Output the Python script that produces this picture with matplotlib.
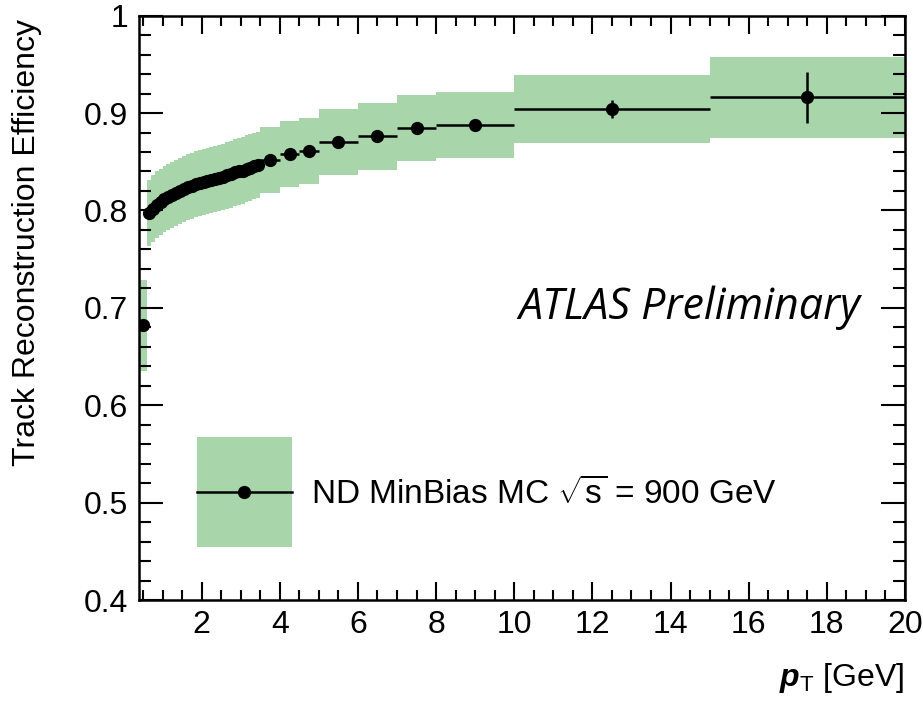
import matplotlib
matplotlib.use("Agg")
import matplotlib.pyplot as plt
from matplotlib.patches import Patch, Rectangle
from matplotlib.lines import Line2D
from matplotlib.legend_handler import HandlerBase
import numpy as np

# ---------------- data ----------------
pt_center = [0.50,
             0.65, 0.75, 0.85, 0.95, 1.05, 1.15, 1.25, 1.35, 1.45, 1.55,
             1.65, 1.75, 1.85, 1.95, 2.05, 2.15, 2.25, 2.35, 2.45, 2.55,
             2.65, 2.75, 2.85, 2.95, 3.05, 3.15, 3.25, 3.35, 3.45,
             3.75, 4.25, 4.75, 5.5, 6.5, 7.5, 9.0, 12.5, 17.5]
pt_halfwidth = [0.10,
                0.05, 0.05, 0.05, 0.05, 0.05, 0.05, 0.05, 0.05, 0.05, 0.05,
                0.05, 0.05, 0.05, 0.05, 0.05, 0.05, 0.05, 0.05, 0.05, 0.05,
                0.05, 0.05, 0.05, 0.05, 0.05, 0.05, 0.05, 0.05, 0.05,
                0.25, 0.25, 0.25, 0.5, 0.5, 0.5, 1.0, 2.5, 2.5]
efficiency = [0.682,
              0.797, 0.802, 0.806, 0.809, 0.812, 0.814, 0.816, 0.818, 0.820, 0.822,
              0.824, 0.825, 0.827, 0.828, 0.829, 0.830, 0.831, 0.832, 0.833, 0.834,
              0.836, 0.837, 0.839, 0.840, 0.841, 0.843, 0.844, 0.846, 0.847,
              0.852, 0.858, 0.861, 0.870, 0.876, 0.885, 0.888, 0.904, 0.916]
stat_err = [0.004,
            0.002, 0.002, 0.002, 0.002, 0.002, 0.002, 0.002, 0.002, 0.002, 0.002,
            0.002, 0.002, 0.002, 0.002, 0.002, 0.002, 0.002, 0.002, 0.002, 0.002,
            0.002, 0.002, 0.002, 0.002, 0.002, 0.002, 0.002, 0.002, 0.002,
            0.003, 0.003, 0.003, 0.003, 0.004, 0.004, 0.004, 0.009, 0.026]
syst_err = [0.047,
            0.034, 0.034, 0.034, 0.034, 0.034, 0.034, 0.034, 0.034, 0.034, 0.034,
            0.034, 0.034, 0.034, 0.034, 0.034, 0.034, 0.034, 0.034, 0.034, 0.034,
            0.034, 0.034, 0.034, 0.034, 0.034, 0.034, 0.034, 0.034, 0.034,
            0.034, 0.034, 0.034, 0.034, 0.034, 0.034, 0.034, 0.035, 0.042]

x_ticks = [2, 4, 6, 8, 10, 12, 14, 16, 18, 20]
y_ticks = [0.4, 0.5, 0.6, 0.7, 0.8, 0.9, 1.0]
y_ticklabels = ["0.4", "0.5", "0.6", "0.7", "0.8", "0.9", "1"]

legend_label = r"ND MinBias MC $\sqrt{\mathregular{s}}$ = 900 GeV"
x_label = r"$\mathbfit{p}_{\mathrm{T}}$ [GeV]"
y_label = "Track Reconstruction Efficiency"
atlas_text = "ATLAS Preliminary"

# ---------------- style ----------------
GREEN = "#a8d5a9"
plt.rcParams["font.family"] = ["Liberation Sans", "DejaVu Sans"]
plt.rcParams["mathtext.fontset"] = "custom"
plt.rcParams["mathtext.rm"] = "Liberation Sans"
plt.rcParams["mathtext.it"] = "Liberation Sans:italic"
plt.rcParams["mathtext.bf"] = "Liberation Sans:bold"
plt.rcParams["mathtext.bfit"] = "Liberation Sans:bold:italic"

TICK_FS = 23
LEG_FS = 24
MS = 8.5


class HandlerBandPoint(HandlerBase):
    """Green band box with a horizontal line and a dot, centred on the text."""

    def __init__(self, box_h_pt, **kw):
        super().__init__(**kw)
        self.box_h_pt = box_h_pt

    def create_artists(self, legend, orig_handle, xdescent, ydescent,
                       width, height, fontsize, trans):
        yc = 0.36 * fontsize
        rect = Rectangle((-xdescent, yc - self.box_h_pt / 2), width,
                         self.box_h_pt, facecolor=GREEN, edgecolor="none",
                         transform=trans)
        line = Line2D([-xdescent, width - xdescent], [yc, yc], color="black",
                      linewidth=1.8, transform=trans)
        dot = Line2D([(width - 2 * xdescent) / 2], [yc], color="black",
                     marker="o", markersize=MS, linestyle="none",
                     transform=trans)
        return [rect, line, dot]


fig = plt.figure(figsize=(9.23, 7.03), dpi=100)
ax = fig.add_axes([0.1511, 0.1465, 0.8294, 0.8312])

pt_center_a = np.array(pt_center)
hw = np.array(pt_halfwidth)
eff = np.array(efficiency)
syst = np.array(syst_err)

# systematic band
ax.bar(pt_center_a, 2 * syst, bottom=eff - syst, width=2 * hw,
       color=GREEN, edgecolor="none", linewidth=0, zorder=1)

# data points
ax.errorbar(pt_center_a, eff, xerr=hw, yerr=stat_err, fmt="o",
            color="black", markersize=MS, elinewidth=1.8, capsize=0, zorder=3)

ax.set_xlim(0.41, 20)
ax.set_ylim(0.4, 1.0)
ax.set_xticks(x_ticks)
ax.set_xticks(np.arange(0.5, 20.01, 0.5), minor=True)
ax.set_yticks(y_ticks)
ax.set_yticklabels(y_ticklabels)
ax.set_yticks(np.arange(0.4, 1.001, 0.02), minor=True)

ax.tick_params(which="both", direction="in", top=True, right=True,
               labelsize=TICK_FS, width=1.5)
ax.tick_params(axis="x", which="major", length=13, pad=7)
ax.tick_params(axis="x", which="minor", length=7)
ax.tick_params(axis="y", which="major", length=17, pad=8)
ax.tick_params(axis="y", which="minor", length=8.5)
for s in ax.spines.values():
    s.set_linewidth(1.8)

# labels
fig.text(27 / 923, 1 - 242 / 703, y_label, rotation=90, ha="center",
         va="center", fontsize=23)
fig.text(905 / 923, 1 - 686 / 703, x_label, ha="right", va="baseline",
         fontsize=23)

ax.text(0.941, 0.5, atlas_text, transform=ax.transAxes, ha="right",
        va="center", fontsize=31, style="italic", family="Open Sans")

# legend
legend_handle = Patch(facecolor=GREEN)
leg = ax.legend([legend_handle], [legend_label], loc="lower left",
                bbox_to_anchor=(0.0747, 0.152), frameon=False, fontsize=LEG_FS,
                handlelength=2.85, handleheight=0.7, handletextpad=0.57,
                borderpad=0, borderaxespad=0,
                handler_map={Patch: HandlerBandPoint(79.2)})

fig.savefig("out.png", dpi=100)
